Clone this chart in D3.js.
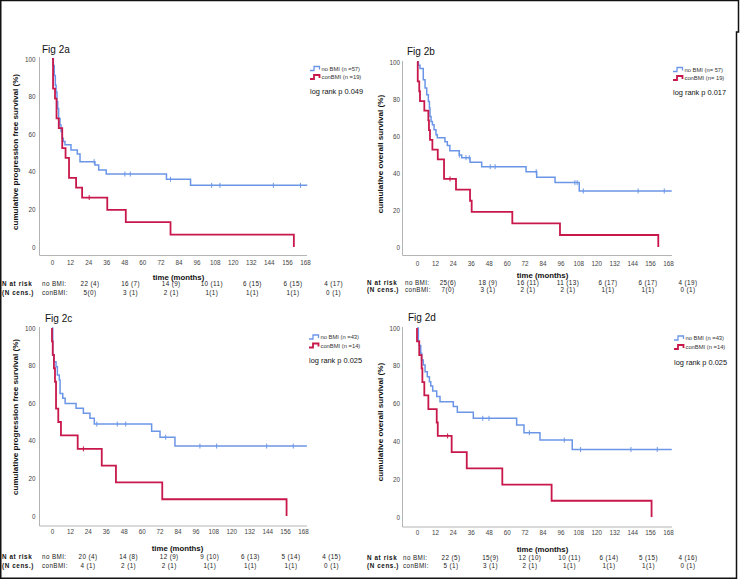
<!DOCTYPE html>
<html>
<head>
<meta charset="utf-8">
<script src="https://cdn.jsdelivr.net/npm/d3@7"></script>
<style>
body { margin: 0; background: #fff; }
svg { display: block; font-family: "Liberation Sans", Arial, sans-serif; }
</style>
</head>
<body>
<div id="chart"></div>
<script>
const BLUE = "#6b96e8";
const RED = "#c8184b";
const FONT = "'Liberation Sans', Arial, sans-serif";

const MONTH_TICKS = [0, 12, 24, 36, 48, 60, 72, 84, 96, 108, 120, 132, 144, 156, 168];
const PCT_TICKS = [0, 20, 40, 60, 80, 100];

// step curves: [month, survival % after the drop]
const noBmiA = [[0.9, 96.5], [1.5, 91.2], [2.2, 86], [2.7, 82.5], [3.3, 77.2], [3.8, 73.7], [4.4, 68.4], [5.3, 64.9], [6, 61.4], [6.8, 57.9], [7.5, 56.1], [8.6, 54.4], [12.6, 51.6], [16.8, 49.5], [18.6, 45.4], [28.5, 43.6], [31, 41], [36, 38.8], [76, 36], [92, 32.8]];
const noBmiACens = [28, 48.4, 52, 78.7, 106, 111.5, 147, 165];
const conBmiA = [[0.7, 84.2], [2, 78.9], [3, 68.4], [4.5, 63.2], [6.8, 52.6], [9, 47.4], [11.3, 36.8], [16, 31.6], [20, 26.3], [36.7, 19.7], [49, 13.2], [78.7, 6.6], [160.6, 0]];
const conBmiACens = [24.7];

const noBmiB = [[1, 98.2], [2, 96.5], [4.2, 90.4], [5.4, 85.9], [6.5, 82.3], [7.6, 78.7], [8.3, 75.1], [8.7, 70.6], [9.4, 67.9], [10.3, 66.1], [11.4, 63.4], [12.7, 60.7], [13.6, 59], [18.7, 56.9], [20.3, 54.8], [22, 52], [28.3, 49.7], [29.9, 48.3], [35.5, 45.8], [43.3, 43.4], [73, 40.7], [80.1, 37.7], [92.4, 34.8], [108.6, 30.3]];
const noBmiBCens = [28.3, 32.8, 35, 49, 52.3, 79.8, 105.7, 107.2, 111.3, 148, 165.5];
const conBmiB = [[0.5, 89.5], [1.5, 84.2], [2, 78.9], [4.9, 73.7], [7.6, 68.4], [8, 63.2], [8.7, 57.9], [10.3, 52.6], [13.9, 47.4], [18.1, 36.8], [26.1, 31], [35.5, 25], [36.6, 19], [63.8, 12.8], [95.7, 6.5], [161.5, 0]];
const conBmiBCens = [22.1];

const noBmiC = [[0.5, 85.6], [1.3, 82.1], [2.7, 79.4], [3.6, 75], [4.9, 72.3], [5.4, 65.2], [7.2, 62.6], [8.8, 59.9], [16.1, 57.3], [21, 54.6], [25.4, 52], [28.3, 48.9], [66.7, 45.1], [72.3, 41.9], [82.3, 37.2]];
const noBmiCCens = [30, 43.7, 49.3, 76.1, 99, 110.2, 143.7, 161.5];
const conBmiC = [[0, 92.9], [0.5, 85.7], [1.3, 78.6], [2, 71.4], [2.7, 57.1], [4.2, 50], [6, 42.9], [17.2, 35.7], [33.3, 26.8], [42.8, 17.9], [73.8, 8.9], [157, 0]];
const conBmiCCens = [21];

const noBmiD = [[0.9, 93], [1.5, 90.7], [2.5, 86.6], [3.1, 83.1], [4.2, 80.4], [5.4, 76.9], [6.9, 74.2], [8.3, 71.6], [9.2, 69.3], [10.5, 66.7], [13.2, 63.7], [15.4, 61], [24.3, 58.4], [27, 55.4], [37.7, 52.2], [66.7, 48.7], [71.6, 44.6], [82.3, 40.7], [103.9, 35.7]];
const noBmiDCens = [44, 48.2, 75.2, 98.6, 109.5, 143.2, 160.8];
const conBmiD = [[0, 92.9], [1.5, 85.7], [3.1, 78.6], [3.6, 71.4], [4.9, 64.3], [7.6, 57.1], [13.2, 50], [13.9, 42.9], [23.2, 34.3], [33.3, 25.7], [57.1, 17.1], [90.1, 8.6], [157, 0]];
const conBmiDCens = [20.5];

// number at risk (censored) tables
const riskNoBmiA = ["22 (4)", "16 (7)", "14 (9)", "10 (11)", "6 (15)", "6 (15)", "4 (17)"];
const riskConBmiA = ["5(0)", "3 (1)", "2 (1)", "1(1)", "1(1)", "1(1)", "0 (1)"];
const riskNoBmiB = ["25(6)", "18 (9)", "16 (11)", "11 (13)", "6 (17)", "6 (17)", "4 (19)"];
const riskConBmiB = ["7(0)", "3 (1)", "2 (1)", "2 (1)", "1(1)", "1(1)", "0 (1)"];
const riskNoBmiC = ["20 (4)", "14 (8)", "12 (9)", "9 (10)", "6 (13)", "5 (14)", "4 (15)"];
const riskConBmiC = ["4 (1)", "2 (1)", "2 (1)", "1(1)", "1(1)", "1(1)", "0 (1)"];
const riskNoBmiD = ["22 (5)", "15(9)", "12 (10)", "10 (11)", "6 (14)", "5 (15)", "4 (16)"];
const riskConBmiD = ["5 (1)", "3 (1)", "2 (1)", "1(1)", "1(1)", "1(1)", "0 (1)"];

const panels = [
  { title: "Fig 2a", yTitle: "cumulative progression free survival (%)", legend: ["no BMI (n =57)", "conBMI (n =19)"], logRank: "log rank p 0.049",
    blue: noBmiA, blueCens: noBmiACens, blueEnd: 169.5, red: conBmiA, redCens: conBmiACens, riskNo: riskNoBmiA, riskCon: riskConBmiA,
    L: { axisX: 39.5, x0: 52, x168: 305, top: 57, y100: 59, y0: 247, axisY: 255.5, right: 307, yPad: 4, xLab: 263.5, titleX: 42, titleY: 49, yTitleX: 15, yTitleY: 152,
         legX: 310, legY: 68.5, legGap: 8.5, lrY: 91, timeY: 277, tabX: 2, tabX2: 42, row1: 284, row2: 292.5, col0: 90, colStep: 40.6 } },
  { title: "Fig 2b", yTitle: "cumulative overall survival (%)", legend: ["no BMI (n= 57)", "conBMI (n= 19)"], logRank: "log rank p 0.017",
    blue: noBmiB, blueCens: noBmiBCens, blueEnd: 170.5, red: conBmiB, redCens: conBmiBCens, riskNo: riskNoBmiB, riskCon: riskConBmiB,
    L: { axisX: 402.5, x0: 417, x168: 668, top: 61, y100: 62, y0: 247, axisY: 255.5, right: 672, yPad: 2.5, xLab: 264.5, titleX: 407, titleY: 51.5, yTitleX: 380, yTitleY: 154,
         legX: 673, legY: 69.5, legGap: 8.5, lrY: 92, timeY: 275.5, tabX: 367, tabX2: 405, row1: 282.5, row2: 289.5, col0: 448, colStep: 40 } },
  { title: "Fig 2c", yTitle: "cumulative progression free survival (%)", legend: ["no BMI (n =43)", "conBMI (n =14)"], logRank: "log rank p 0.025",
    blue: noBmiC, blueCens: noBmiCCens, blueEnd: 170.6, red: conBmiC, redCens: conBmiCCens, riskNo: riskNoBmiC, riskCon: riskConBmiC,
    L: { axisX: 39.5, x0: 52, x168: 303, top: 327, y100: 328, y0: 516, axisY: 526, right: 307, yPad: 4, xLab: 532.5, titleX: 45, titleY: 318.5, yTitleX: 15, yTitleY: 417,
         legX: 309, legY: 337, legGap: 8.5, lrY: 360, timeY: 548.5, tabX: 2, tabX2: 42, row1: 557, row2: 566, col0: 88, colStep: 40.6 } },
  { title: "Fig 2d", yTitle: "cumulative overall survival (%)", legend: ["no BMI (n =43)", "conBMI (n =14)"], logRank: "log rank p 0.025",
    blue: noBmiD, blueCens: noBmiDCens, blueEnd: 170.5, red: conBmiD, redCens: conBmiDCens, riskNo: riskNoBmiD, riskCon: riskConBmiD,
    L: { axisX: 402.5, x0: 417, x168: 668, top: 327, y100: 328, y0: 517, axisY: 527, right: 672, yPad: 2.5, xLab: 533.5, titleX: 408, titleY: 317, yTitleX: 380, yTitleY: 422,
         legX: 674, legY: 338, legGap: 9, lrY: 362, timeY: 549.5, tabX: 367, tabX2: 403, row1: 557.5, row2: 566, col0: 451, colStep: 39.5 } }
];

const svg = d3.select("#chart").append("svg")
  .attr("width", 740)
  .attr("height", 580);

// outer frame
svg.append("path")
  .attr("d", "M0.75,0.5H738.5V32H736.5V578.25H0.75Z")
  .attr("fill", "none")
  .attr("stroke", "#111")
  .attr("stroke-width", 1.5);

function survAt(steps, t) {
  let v = 100;
  steps.forEach(s => { if (s[0] <= t) v = s[1]; });
  return v;
}

function drawCurve(g, x, y, steps, end, cens, color, width) {
  const pts = [[0, 100]].concat(steps);
  pts.push([end, pts[pts.length - 1][1]]);
  const line = d3.line()
    .x(d => x(d[0]))
    .y(d => y(d[1]))
    .curve(d3.curveStepAfter);
  g.append("path")
    .attr("d", line(pts))
    .attr("fill", "none")
    .attr("stroke", color)
    .attr("stroke-width", width);
  g.selectAll(null)
    .data(cens)
    .enter().append("line")
      .attr("x1", d => x(d))
      .attr("x2", d => x(d))
      .attr("y1", d => y(survAt(steps, d)) - 2.5)
      .attr("y2", d => y(survAt(steps, d)) + 2.5)
      .attr("stroke", color)
      .attr("stroke-width", 1);
}

function drawPanel(p) {
  const L = p.L;
  const g = svg.append("g");

  const x = d3.scaleLinear().domain([0, 168]).range([L.x0, L.x168]);
  const y = d3.scaleLinear().domain([0, 100]).range([L.y0, L.y100]);

  // axis lines
  g.append("path")
    .attr("d", `M${L.axisX},${L.top}V${L.axisY}H${L.right}`)
    .attr("fill", "none")
    .attr("stroke", "#b4b4b4")
    .attr("stroke-width", 1);

  const yAxis = g.append("g")
    .attr("transform", `translate(${L.axisX},0)`)
    .call(d3.axisLeft(y).tickValues(PCT_TICKS).tickSize(0).tickPadding(L.yPad))
    .attr("font-family", FONT)
    .attr("font-size", 6.3);
  yAxis.select(".domain").remove();
  yAxis.selectAll("text").attr("fill", "#444");

  const xAxis = g.append("g")
    .attr("transform", `translate(0,${L.xLab - 6})`)
    .call(d3.axisBottom(x).tickValues(MONTH_TICKS).tickSize(0).tickPadding(3))
    .attr("font-family", FONT)
    .attr("font-size", 6.3);
  xAxis.select(".domain").remove();
  xAxis.selectAll("text").attr("fill", "#444");

  // titles
  g.append("text")
    .attr("x", L.titleX)
    .attr("y", L.titleY + 3.5)
    .attr("font-size", 10)
    .attr("fill", "#111")
    .text(p.title);

  g.append("text")
    .attr("transform", `translate(${L.yTitleX},${L.yTitleY}) rotate(-90)`)
    .attr("text-anchor", "middle")
    .attr("dy", "0.35em")
    .attr("font-size", 8.1)
    .attr("font-weight", "bold")
    .attr("fill", "#111")
    .text(p.yTitle);

  g.append("text")
    .attr("x", (L.x0 + L.x168) / 2)
    .attr("y", L.timeY)
    .attr("dy", "0.35em")
    .attr("text-anchor", "middle")
    .attr("font-size", 7.8)
    .attr("font-weight", "bold")
    .attr("fill", "#111")
    .text("time (months)");

  // curves
  drawCurve(g, x, y, p.blue, p.blueEnd, p.blueCens, BLUE, 1.5);
  const redEnd = p.red[p.red.length - 1][0];
  drawCurve(g, x, y, p.red, redEnd, p.redCens, RED, 1.8);

  // legend
  [BLUE, RED].forEach((c, i) => {
    const ly = L.legY + i * L.legGap;
    g.append("path")
      .attr("d", `M${L.legX},${ly + 2}H${L.legX + 4}V${ly - 2}H${L.legX + 9.5}V${ly + 1}`)
      .attr("fill", "none")
      .attr("stroke", c)
      .attr("stroke-width", i ? 1.8 : 1.3);
    g.append("text")
      .attr("x", L.legX + 11.5)
      .attr("y", ly)
      .attr("dy", "0.35em")
      .attr("font-size", 5.8)
      .attr("fill", "#333")
      .text(p.legend[i]);
  });
  g.append("text")
    .attr("x", L.legX)
    .attr("y", L.lrY)
    .attr("dy", "0.35em")
    .attr("font-size", 7.4)
    .attr("fill", "#111")
    .text(p.logRank);

  // risk table
  const rows = [["N at risk", "no BMI:", p.riskNo, L.row1], ["(N cens.)", "conBMI:", p.riskCon, L.row2]];
  rows.forEach(r => {
    g.append("text")
      .attr("x", L.tabX)
      .attr("y", r[3])
      .attr("dy", "0.35em")
      .attr("font-size", 6.3)
      .attr("font-weight", "bold")
      .attr("letter-spacing", 0.6)
      .attr("fill", "#111")
      .text(r[0]);
    g.append("text")
      .attr("x", L.tabX2)
      .attr("y", r[3])
      .attr("dy", "0.35em")
      .attr("font-size", 6.3)
      .attr("letter-spacing", 0.4)
      .attr("fill", "#222")
      .text(r[1]);
    g.selectAll(null)
      .data(r[2])
      .enter().append("text")
        .attr("x", (d, i) => L.col0 + i * L.colStep)
        .attr("y", r[3])
        .attr("dy", "0.35em")
        .attr("text-anchor", "middle")
        .attr("font-size", 6.3)
        .attr("letter-spacing", 0.4)
        .attr("fill", "#222")
        .text(d => d);
  });
}

svg.attr("font-family", FONT);
panels.forEach(drawPanel);
</script>
</body>
</html>
